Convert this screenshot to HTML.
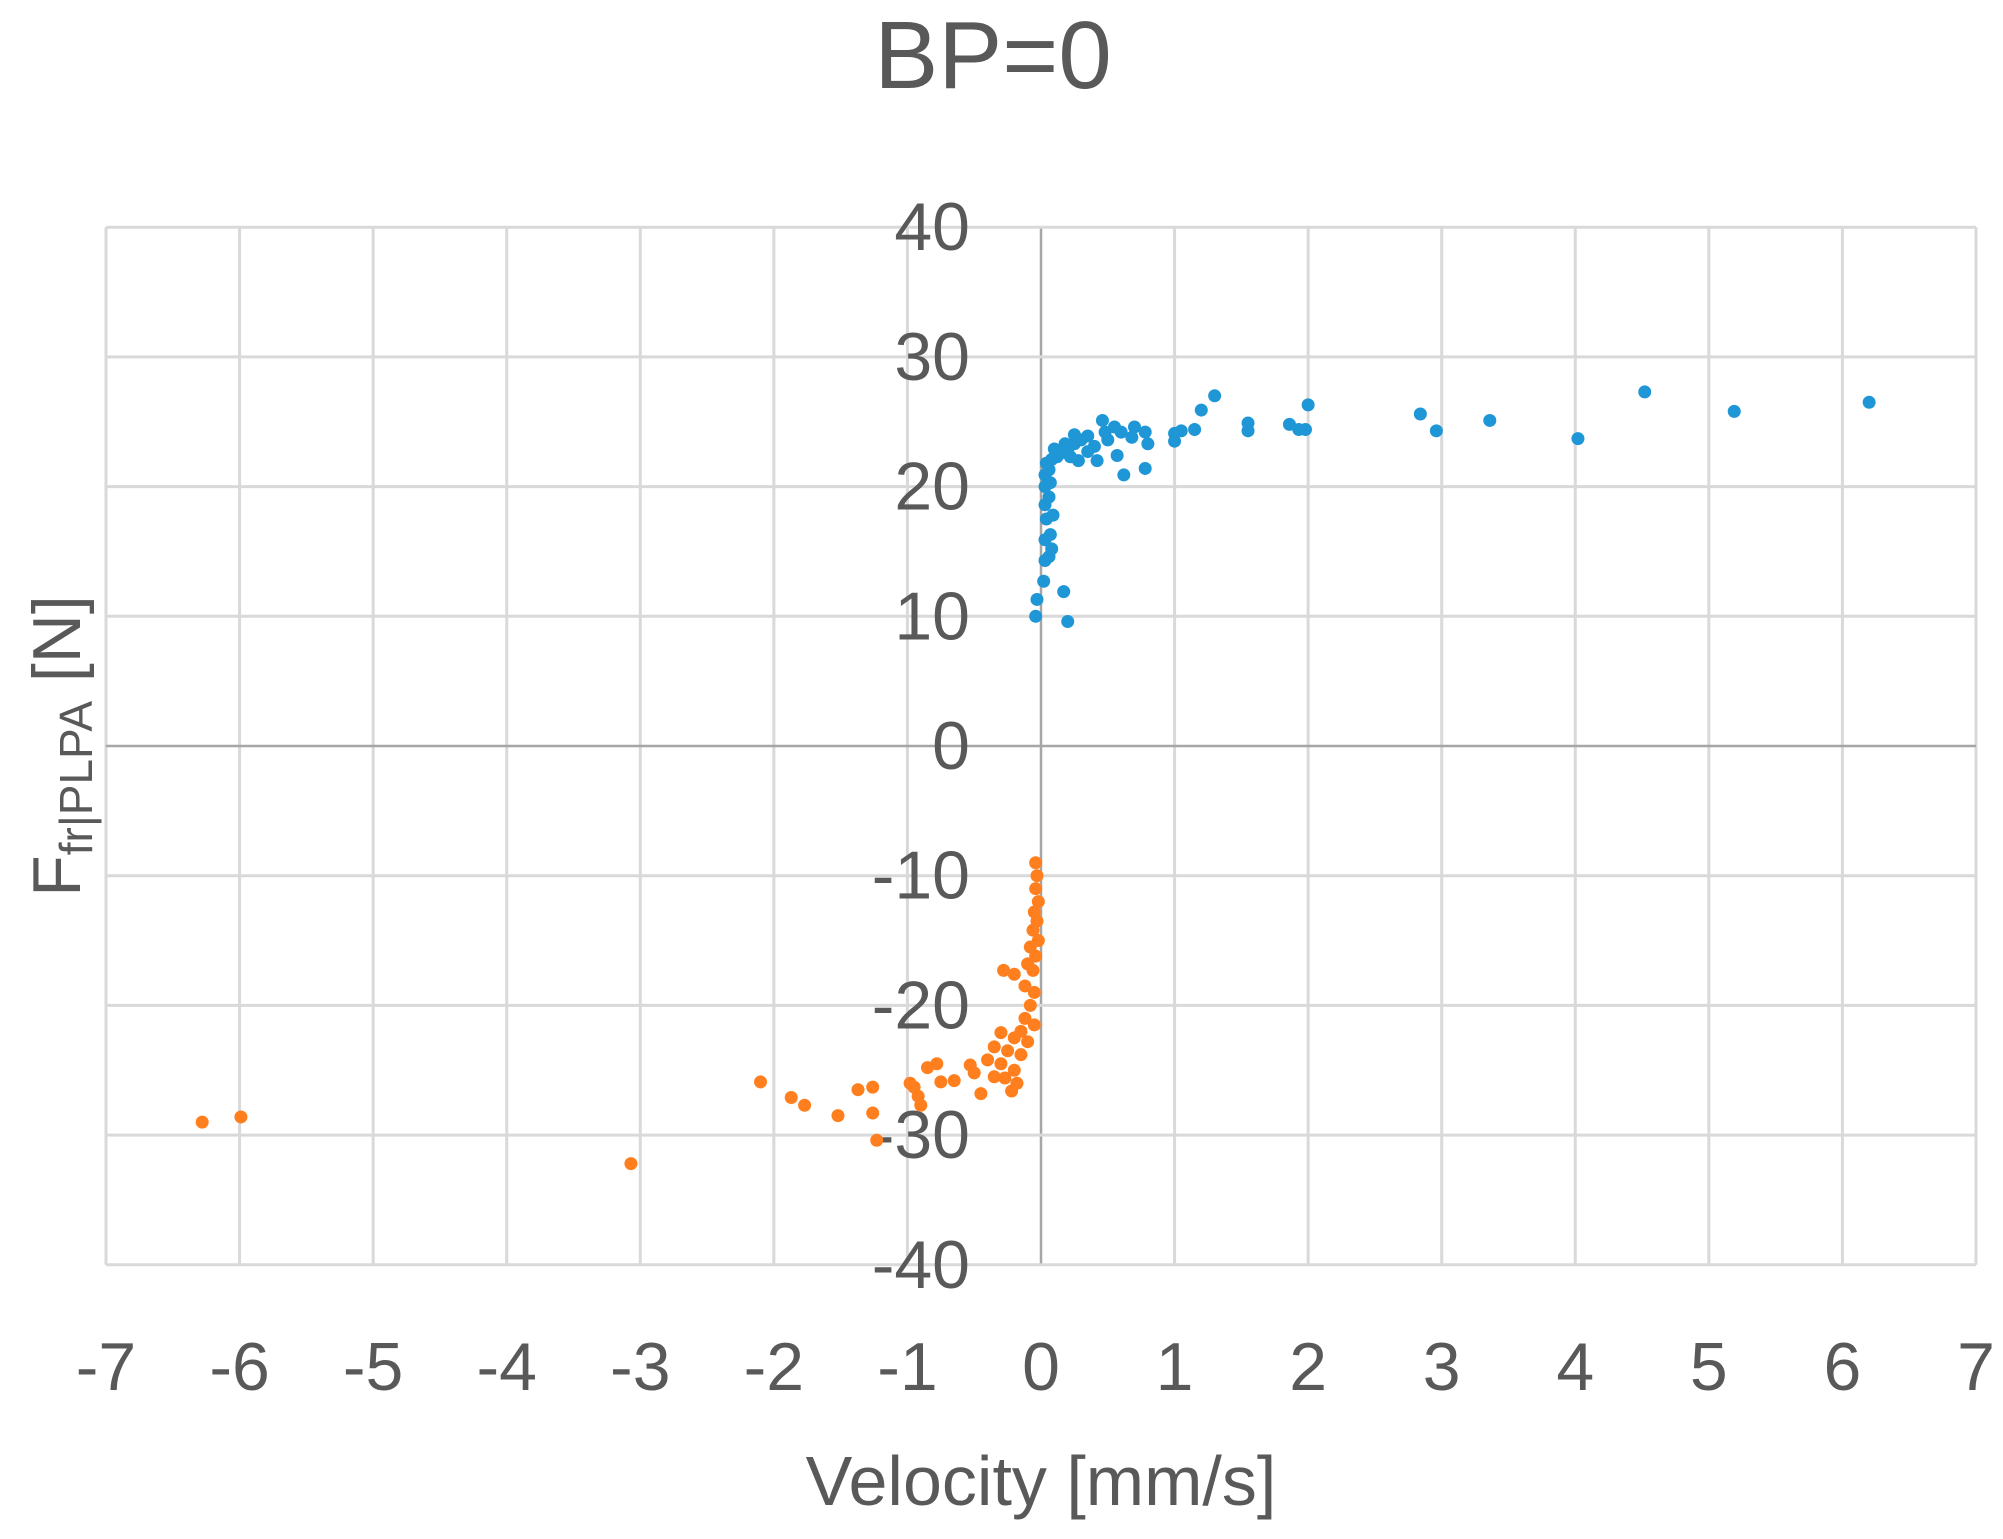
<!DOCTYPE html>
<html><head><meta charset="utf-8"><style>
html,body{margin:0;padding:0;background:#fff;}
svg{display:block;font-family:"Liberation Sans",sans-serif;}
</style></head><body>
<svg id="chart" width="2003" height="1539" viewBox="0 0 2003 1539">
<text x="993" y="88" font-size="96" fill="#595959" text-anchor="middle">BP=0</text>
<g id="grid"></g>
<g id="ticks"></g>
<g id="points"></g>
<text x="1041" y="1505" font-size="70" fill="#595959" text-anchor="middle">Velocity [mm/s]</text>
<text transform="translate(80,746) rotate(-90)" font-size="68" fill="#595959" text-anchor="middle">F<tspan font-size="46" dy="12">fr|PLPA</tspan><tspan dy="-12"> [N]</tspan></text>
</svg>
<script>
const xTicks=[-7,-6,-5,-4,-3,-2,-1,0,1,2,3,4,5,6,7];
const yTicks=[40,30,20,10,0,-10,-20,-30,-40];
const blueX=[-0.04,-0.03,0.02,0.17,0.2,0.03,0.06,0.08,0.03,0.07,0.04,0.09,0.03,0.06,0.03,0.07,0.03,0.06,0.04,0.08,0.12,0.15,0.2,0.1,0.25,0.3,0.18,0.22,0.28,0.35,0.4,0.42,0.5,0.46,0.55,0.6,0.57,0.62,0.7,0.78,0.8,0.78,0.68,0.48,0.35,0.25,1.0,1.0,1.05,1.15,1.2,1.3,1.55,1.55,1.86,1.93,2.0,1.98,2.84,2.96,3.36,4.02,4.52,5.19,6.2];
const blueY=[10,11.3,12.7,11.9,9.6,14.3,14.6,15.2,15.9,16.3,17.5,17.8,18.6,19.2,20,20.3,20.9,21.3,21.8,22.1,22.3,22.6,22.9,22.9,23.3,23.6,23.3,22.3,22.0,22.7,23.1,22,23.6,25.1,24.6,24.2,22.4,20.9,24.6,24.2,23.3,21.4,23.8,24.2,23.9,24.0,24.1,23.5,24.3,24.4,25.9,27.0,24.9,24.3,24.8,24.4,26.3,24.4,25.6,24.3,25.1,23.7,27.3,25.8,26.5];
const orangeX=[-0.04,-0.03,-0.04,-0.02,-0.05,-0.03,-0.06,-0.02,-0.08,-0.04,-0.1,-0.06,-0.28,-0.2,-0.12,-0.05,-0.08,-0.12,-0.05,-0.15,-0.2,-0.1,-0.3,-0.25,-0.15,-0.35,-0.4,-0.3,-0.2,-0.27,-0.18,-0.22,-0.35,-0.45,-0.5,-0.53,-0.65,-0.75,-0.78,-0.85,-0.95,-0.92,-0.9,-0.98,-1.26,-1.37,-1.26,-1.23,-1.52,-1.77,-1.87,-2.1,-3.07,-5.99,-6.28];
const orangeY=[-9,-10,-11,-12,-12.8,-13.5,-14.2,-15,-15.5,-16.2,-16.8,-17.3,-17.3,-17.6,-18.5,-19,-20,-21,-21.5,-22,-22.5,-22.8,-22.1,-23.5,-23.8,-23.2,-24.2,-24.5,-25,-25.6,-26,-26.6,-25.5,-26.8,-25.2,-24.6,-25.8,-25.9,-24.5,-24.8,-26.3,-27,-27.7,-26,-26.3,-26.5,-28.3,-30.4,-28.5,-27.7,-27.1,-25.9,-32.2,-28.6,-29];

const NS="http://www.w3.org/2000/svg";
function sx(v){return 1041+v*133.57;}
function sy(v){return 746-v*12.97;}
const grid=document.getElementById('grid'),ticks=document.getElementById('ticks'),pts=document.getElementById('points');
function mk(tag,attrs,parent){const e=document.createElementNS(NS,tag);for(const k in attrs)e.setAttribute(k,attrs[k]);parent.appendChild(e);return e;}
xTicks.forEach(t=>{
  const l=mk('line',{x1:sx(t),x2:sx(t),y1:sy(40),y2:sy(-40),stroke:t===0?'#a6a6a6':'#d9d9d9','stroke-width':t===0?2.5:3},grid);
  
  
  const tx=mk('text',{x:sx(t),y:1367,'font-size':68,fill:'#595959','text-anchor':'middle','dominant-baseline':'central'},ticks);
  tx.textContent=String(t);
  
  
});
yTicks.forEach(t=>{
  const l=mk('line',{x1:sx(-7),x2:sx(7),y1:sy(t),y2:sy(t),stroke:t===0?'#a6a6a6':'#d9d9d9','stroke-width':t===0?2.5:3},grid);
  
  
  const tx=mk('text',{x:970,y:sy(t),'font-size':68,fill:'#595959','text-anchor':'end','dominant-baseline':'central'},ticks);
  tx.textContent=String(t);
  
  
});
blueX.forEach((v,i)=>{
  const c=mk('circle',{cx:sx(v),cy:sy(blueY[i]),r:6.5,fill:'#1f96d6'},pts);
  
  
});
orangeX.forEach((v,i)=>{
  const c=mk('circle',{cx:sx(v),cy:sy(orangeY[i]),r:6.5,fill:'#ff7f1e'},pts);
  
  
});
</script>
</body></html>
